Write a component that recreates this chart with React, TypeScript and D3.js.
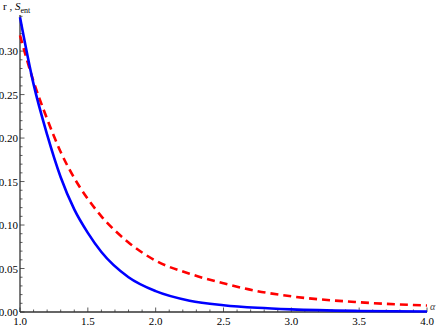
import React, { useEffect, useRef } from "react";
import * as d3 from "d3";

const alphaValues = [1.0, 1.1, 1.2, 1.3, 1.4, 1.5, 1.6, 1.8, 2.0, 2.25, 2.5, 2.75, 3.0, 3.5, 4.0];
const rValues = [0.339, 0.262, 0.204, 0.155, 0.118, 0.091, 0.069, 0.04, 0.024, 0.013, 0.0078, 0.0048, 0.003, 0.0012, 0.0005];
const sEntValues = [0.318, 0.265, 0.222, 0.184, 0.154, 0.13, 0.11, 0.08, 0.059, 0.044, 0.033, 0.024, 0.018, 0.0112, 0.0074];

const xTicks = [1.0, 1.5, 2.0, 2.5, 3.0, 3.5, 4.0];
const yTicks = [0.0, 0.05, 0.1, 0.15, 0.2, 0.25, 0.3];

const App = () => {
  const chartRef = useRef<SVGSVGElement>(null);

  useEffect(() => {
    const svg = d3.select(chartRef.current);
    svg.selectAll("*").remove();

    const width = 436;
    const height = 327;
    const margin = { top: 15, right: 9, bottom: 15, left: 20 };

    svg.attr("width", width).attr("height", height);

    const x = d3.scaleLinear().domain([1, 4]).range([margin.left, width - margin.right]);
    const y = d3.scaleLinear().domain([0, 0.3415]).range([height - margin.bottom, margin.top]);

    const axisColor = "#333";
    const font = "'Liberation Serif', 'Times New Roman', serif";

    // x axis, ticks point inward
    const gx = svg.append("g").attr("transform", `translate(0,${y(0)})`);
    gx.append("line")
      .attr("x1", x(1)).attr("x2", x(4))
      .attr("stroke", axisColor).attr("stroke-width", 1.3);
    gx.selectAll(".minor")
      .data(d3.range(10, 41).map((d) => d / 10))
      .enter()
      .append("line")
      .attr("x1", (d) => x(d)).attr("x2", (d) => x(d))
      .attr("y1", 0)
      .attr("y2", (_, i) => (i % 5 === 0 ? -4.5 : -2.5))
      .attr("stroke", axisColor).attr("stroke-width", 0.8);
    gx.selectAll(".lab")
      .data(xTicks)
      .enter()
      .append("text")
      .attr("x", (d) => x(d))
      .attr("y", 13)
      .attr("text-anchor", "middle")
      .style("font-family", font)
      .style("font-size", "11px")
      .text((d) => d.toFixed(1));

    // y axis
    const gy = svg.append("g").attr("transform", `translate(${x(1)},0)`);
    gy.append("line")
      .attr("y1", y(0)).attr("y2", y(0.3415))
      .attr("stroke", axisColor).attr("stroke-width", 1.3);
    gy.selectAll(".minor")
      .data(d3.range(0, 35).map((d) => d / 100))
      .enter()
      .append("line")
      .attr("y1", (d) => y(d)).attr("y2", (d) => y(d))
      .attr("x1", 0)
      .attr("x2", (_, i) => (i % 5 === 0 ? 4.5 : 2.5))
      .attr("stroke", axisColor).attr("stroke-width", 0.8);
    gy.selectAll(".lab")
      .data(yTicks)
      .enter()
      .append("text")
      .attr("x", -2)
      .attr("y", (d) => y(d) + 4)
      .attr("text-anchor", "end")
      .style("font-family", font)
      .style("font-size", "11px")
      .text((d) => d.toFixed(2));

    // axis labels
    const yl = svg.append("text")
      .attr("x", 3).attr("y", 10)
      .style("font-family", font)
      .style("font-size", "11px");
    yl.append("tspan").text("r , ");
    yl.append("tspan").style("font-style", "italic").text("S");
    yl.append("tspan").attr("dy", 3).style("font-size", "8px").text("ent");

    svg.append("text")
      .attr("x", x(4) + 3).attr("y", y(0) - 2)
      .style("font-family", font)
      .style("font-style", "italic")
      .style("font-size", "10px")
      .attr("fill", "#444")
      .text("α");

    const line = (vals: number[]) =>
      d3.line<number>()
        .x((d) => x(d))
        .y((_, i) => y(vals[i]))
        .curve(d3.curveMonotoneX)(alphaValues);

    svg.append("path")
      .attr("d", line(sEntValues))
      .attr("fill", "none")
      .attr("stroke", "#ff0000")
      .attr("stroke-width", 2.6)
      .attr("stroke-dasharray", "8,5");

    svg.append("path")
      .attr("d", line(rValues))
      .attr("fill", "none")
      .attr("stroke", "#0000ff")
      .attr("stroke-width", 2.6);
  }, []);

  return <svg ref={chartRef} style={{ position: "absolute", left: 0, top: 0 }}></svg>;
};

export default App;
